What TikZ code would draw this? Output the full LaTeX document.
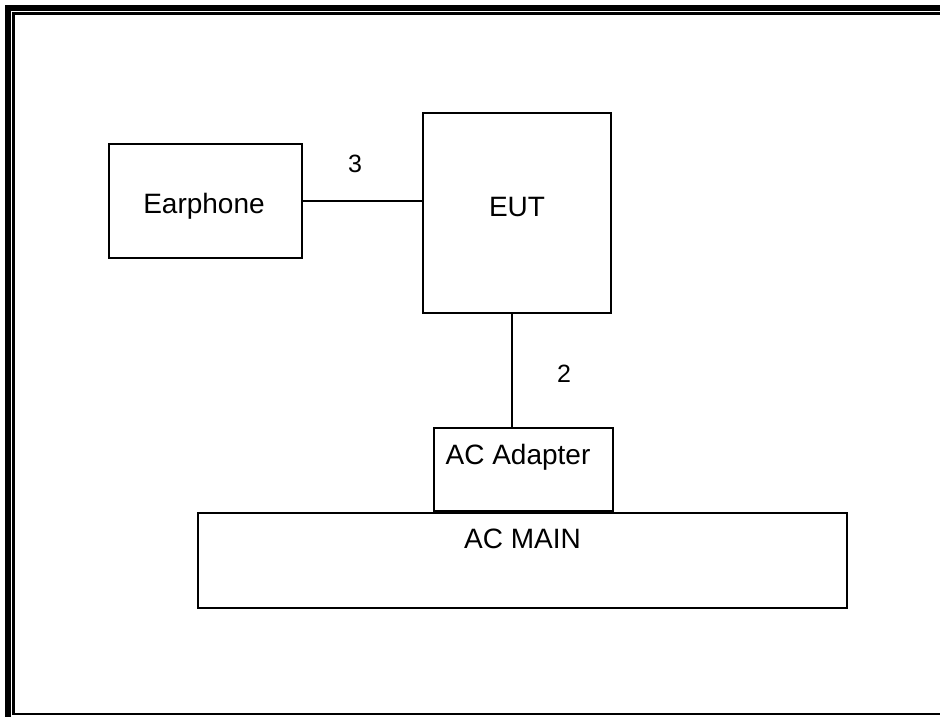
\documentclass[tikz,border=0pt]{standalone}
\usepackage{fontspec}
\setmainfont{Liberation Sans}
\usepackage{tikz}
\usetikzlibrary{calc}

\begin{document}
\begin{tikzpicture}[
  x=1pt, y=-1pt,
  box/.style={rectangle, draw=black, line width=2pt, inner sep=0pt},
  lbl/.style={anchor=base, inner sep=0pt, font=\fontsize{28}{34}\selectfont},
  num/.style={inner sep=0pt, font=\fontsize{25}{30}\selectfont},
  wire/.style={line width=2pt, draw=black},
  frame/.style={line join=miter, draw=black},
]
\useasboundingbox (0,0) rectangle (940,717);
% page frame
\draw[frame, line width=5.7pt] (7.85,717) -- (7.85,7.85) -- (940,7.85);
\draw[frame, line width=2.6pt] (940,13.8) -- (13.7,13.8) -- (13.7,714) -- (940,714);
% boxes
\node[box, minimum width=193pt, minimum height=114pt] (ear) at (205.5,201) {};
\node[box, minimum width=188pt, minimum height=200pt] (eut) at (517,213) {};
\node[box, minimum width=179pt, minimum height=83pt] (adp) at (523.5,469.5) {};
\node[box, minimum width=649pt, minimum height=95pt] (main) at (522.5,560.5) {};
\node[lbl] (earlbl) at (204,213) {Earphone};
\node[lbl] (eutlbl) at (517,216) {EUT};
\node[lbl] (adplbl) at (518,464) {AC Adapter};
\node[lbl] (mainlbl) at (522.5,548) {AC MAIN};
% cables
\draw[wire] (ear.east) -- (ear.east -| eut.west);
\draw[wire] ([xshift=-5pt]eut.south) -- ([xshift=-5pt]eut.south |- adp.north);
\node[num] (n3) at (355,164) {3};
\node[num] (n2) at (564,374) {2};
\end{tikzpicture}
\end{document}
